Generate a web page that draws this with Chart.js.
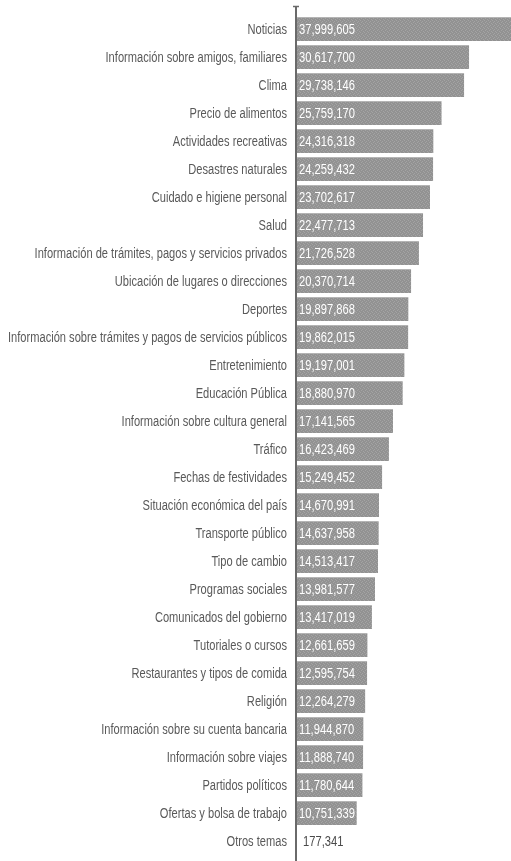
<!DOCTYPE html>
<html lang="es">
<head>
  <meta charset="UTF-8" />
  <title>Temas consultados</title>
  <script src="https://cdn.jsdelivr.net/npm/chart.js"></script>
  <style>
    html, body { margin: 0; padding: 0; background: #fff; }
    #wrap { width: 511px; height: 861px; }
  </style>
</head>
<body>
  <div id="wrap"><canvas id="temasChart"></canvas></div>

  <script>
    const categorias = [
      'Noticias',
      'Información sobre amigos, familiares',
      'Clima',
      'Precio de alimentos',
      'Actividades recreativas',
      'Desastres naturales',
      'Cuidado e higiene personal',
      'Salud',
      'Información de trámites, pagos y servicios privados',
      'Ubicación de lugares o direcciones',
      'Deportes',
      'Información sobre trámites y pagos de servicios públicos',
      'Entretenimiento',
      'Educación Pública',
      'Información sobre cultura general',
      'Tráfico',
      'Fechas de festividades',
      'Situación económica del país',
      'Transporte público',
      'Tipo de cambio',
      'Programas sociales',
      'Comunicados del gobierno',
      'Tutoriales o cursos',
      'Restaurantes y tipos de comida',
      'Religión',
      'Información sobre su cuenta bancaria',
      'Información sobre viajes',
      'Partidos políticos',
      'Ofertas y bolsa de trabajo',
      'Otros temas'
    ];
    const personas = [
      37999605, 30617700, 29738146, 25759170, 24316318, 24259432, 23702617,
      22477713, 21726528, 20370714, 19897868, 19862015, 19197001, 18880970,
      17141565, 16423469, 15249452, 14670991, 14637958, 14513417, 13981577,
      13417019, 12661659, 12595754, 12264279, 11944870, 11888740, 11780644,
      10751339, 177341
    ];

    const FONT = '"Liberation Sans", Arial, sans-serif';
    const LABEL_RIGHT = 287;   // right edge of the category text
    const WIDEST = 279;        // width of the longest category label in the original
    const NUM_WIDTH = 56;      // width of "37,999,605" in the original

    // dithered grey texture like the original print
    function barPattern() {
      const c = document.createElement('canvas');
      c.width = 4; c.height = 4;
      const g = c.getContext('2d');
      g.fillStyle = '#929292';
      g.fillRect(0, 0, 4, 4);
      g.fillStyle = '#a4a4a4';
      g.fillRect(0, 0, 1, 1); g.fillRect(2, 1, 1, 1);
      g.fillRect(1, 2, 1, 1); g.fillRect(3, 3, 1, 1);
      return g.createPattern(c, 'repeat');
    }

    const fmt = n => n.toLocaleString('en-US');

    // squeezed text, to get the condensed look of the original type
    function narrowText(ctx, txt, x, y, sx, align) {
      ctx.save();
      ctx.translate(x, y);
      ctx.scale(sx, 1);
      ctx.textAlign = align;
      ctx.fillText(txt, 0, 0);
      ctx.restore();
    }

    const axisLine = {
      id: 'axisLine',
      afterDatasetsDraw(chart) {
        const ctx = chart.ctx;
        const x = chart.chartArea.left;
        ctx.save();
        ctx.strokeStyle = '#6a6a6a';
        ctx.lineWidth = 2;
        ctx.beginPath();
        ctx.moveTo(x, 6);
        ctx.lineTo(x, chart.height);
        ctx.stroke();
        ctx.lineWidth = 1.5;
        ctx.beginPath();
        ctx.moveTo(x - 3, 6.5);
        ctx.lineTo(x + 3, 6.5);
        ctx.stroke();
        ctx.restore();
      }
    };

    const textLabels = {
      id: 'textLabels',
      afterDatasetsDraw(chart) {
        const ctx = chart.ctx;
        const yScale = chart.scales.y;
        const meta = chart.getDatasetMeta(0);
        ctx.save();
        ctx.font = '14px ' + FONT;
        ctx.textBaseline = 'middle';
        const longest = Math.max(...categorias.map(t => ctx.measureText(t).width));
        const sx = WIDEST / longest;
        const sn = NUM_WIDTH / ctx.measureText(fmt(personas[0])).width;

        ctx.fillStyle = '#595959';
        categorias.forEach((t, i) => {
          narrowText(ctx, t, LABEL_RIGHT, yScale.getPixelForTick(i) + 1, sx, 'right');
        });

        meta.data.forEach((bar, i) => {
          const txt = fmt(personas[i]);
          const x0 = chart.chartArea.left + 3;
          if (bar.x - x0 > 30) {
            ctx.fillStyle = '#ffffff';
            narrowText(ctx, txt, x0, bar.y + 1, sn, 'left');
          } else {
            ctx.fillStyle = '#4a4a4a';
            narrowText(ctx, txt, bar.x + 6, bar.y + 1, sn, 'left');
          }
        });
        ctx.restore();
      }
    };

    const ctx = document.getElementById('temasChart').getContext('2d');
    new Chart(ctx, {
      type: 'bar',
      data: {
        labels: categorias,
        datasets: [{
          data: personas,
          backgroundColor: barPattern(),
          borderColor: '#b4b4b4',
          borderWidth: { top: 1, right: 0, bottom: 0, left: 0 },
          borderSkipped: false,
          barPercentage: 0.86,
          categoryPercentage: 1
        }]
      },
      options: {
        indexAxis: 'y',
        responsive: true,
        maintainAspectRatio: false,
        animation: false,
        layout: { padding: { top: 15, bottom: 6, left: 0, right: 0 } },
        plugins: { legend: { display: false }, tooltip: { enabled: false } },
        scales: {
          x: { display: false, min: 0, max: 38000000 },
          y: {
            grid: { display: false, drawTicks: false },
            border: { display: false },
            afterFit(scale) { scale.width = 296; },
            ticks: { display: false, autoSkip: false }
          }
        }
      },
      plugins: [axisLine, textLabels]
    });
  </script>
</body>
</html>
